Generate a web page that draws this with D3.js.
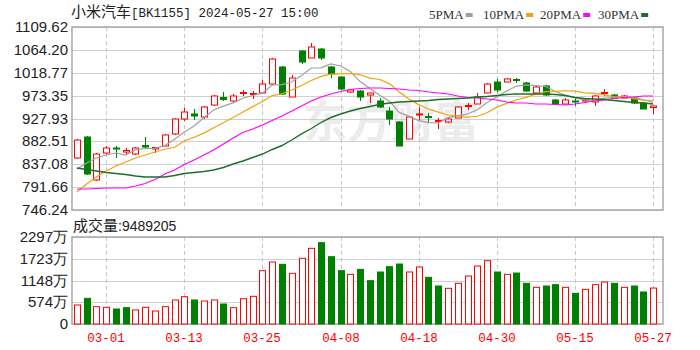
<!DOCTYPE html>
<html>
<meta charset="utf-8">
<head>
  <title>小米汽车[BK1155] K线</title>
</head>

<style>
body { margin: 0; background: #fff; }
svg { display: block; }
.ylab {
  font-family: "Liberation Sans", Arial, sans-serif;
  font-size: 15px;
  fill: #222;
  text-anchor: end;
}
.xlab {
  font-family: "Liberation Mono", "DejaVu Sans Mono", monospace;
  font-size: 12.5px;
  fill: #f00;
  text-anchor: middle;
}
.legend {
  font-family: "Liberation Serif", serif;
  font-size: 13px;
  fill: #333;
}
</style>

<body>
  <svg width="700" height="350"></svg>

  <script src="https://cdn.jsdelivr.net/npm/d3@7"></script>
  <script>
// trading days shown
var dates = ["02-27","02-28","02-29","03-01","03-04","03-05","03-06","03-07","03-08","03-11",
  "03-12","03-13","03-14","03-15","03-18","03-19","03-20","03-21","03-22","03-25",
  "03-26","03-27","03-28","03-29","04-01","04-02","04-03","04-08","04-09","04-10",
  "04-11","04-12","04-15","04-16","04-17","04-18","04-19","04-22","04-23","04-24",
  "04-25","04-26","04-29","04-30","05-06","05-07","05-08","05-09","05-10","05-13",
  "05-14","05-15","05-16","05-17","05-20","05-21","05-22","05-23","05-24","05-27"];

var opens = [849.5, 891.2, 805.8, 859.4, 869.3, 861.4, 857.4, 874.3, 867.4, 873.3,
  897.2, 926.9, 936.9, 930.9, 954.7, 969.6, 962.7, 977.6, 975.6, 978.6,
  996.4, 1030.2, 970.6, 1061.9, 1048.1, 1065.9, 1030.2, 1010.3, 980.5, 982.5,
  974.6, 962.7, 942.8, 921.0, 887.2, 934.9, 931.9, 921.9, 921.0, 928.9,
  951.7, 956.7, 978.6, 1000.4, 1000.4, 1005.4, 998.4, 978.6, 992.5, 964.7,
  956.7, 962.7, 962.7, 960.7, 977.6, 974.6, 968.6, 968.6, 958.7, 949.8];

var highs = [887.2, 893.2, 859.4, 873.3, 873.3, 869.3, 871.3, 891.2, 871.3, 897.2,
  928.9, 948.8, 946.8, 952.7, 974.6, 980.5, 976.6, 984.5, 982.5, 1004.4,
  1048.1, 1032.2, 1014.3, 1063.9, 1077.8, 1067.9, 1032.2, 1012.3, 986.5, 984.5,
  979.6, 968.6, 950.8, 923.0, 932.9, 950.8, 938.8, 928.9, 928.9, 952.7,
  958.7, 978.6, 998.4, 1006.5, 1008.3, 1008.3, 1000.4, 992.5, 994.4, 966.6,
  968.6, 970.6, 966.6, 974.6, 986.5, 976.6, 974.6, 970.6, 960.7, 952.7];

var lows = [847.5, 815.7, 803.8, 857.4, 849.5, 855.4, 855.4, 869.3, 859.4, 873.3,
  895.2, 923.0, 924.9, 926.9, 952.7, 962.7, 960.7, 972.6, 966.6, 976.6,
  994.4, 974.6, 970.6, 1036.1, 1048.1, 1044.1, 1008.3, 984.5, 978.6, 962.7,
  958.7, 948.8, 915.0, 873.3, 887.2, 924.9, 919.0, 907.1, 919.0, 928.9,
  944.8, 956.7, 978.6, 980.5, 1000.4, 998.4, 980.5, 978.6, 972.6, 954.7,
  956.7, 952.7, 958.7, 952.7, 972.6, 966.6, 968.6, 956.7, 946.8, 936.9];

var closes = [885.2, 817.7, 857.4, 869.3, 867.4, 864.4, 869.3, 871.3, 870.3, 895.2,
  926.9, 940.8, 932.9, 950.8, 972.6, 965.6, 972.6, 979.5, 977.6, 996.4,
  1046.1, 976.6, 1008.3, 1040.1, 1069.9, 1048.1, 1016.3, 986.5, 984.5, 970.6,
  978.6, 950.8, 926.9, 873.3, 930.9, 936.9, 929.9, 923.9, 926.9, 950.8,
  953.7, 970.6, 996.4, 984.5, 1006.5, 1003.4, 982.5, 990.5, 974.6, 956.7,
  964.7, 960.7, 964.7, 972.6, 979.5, 968.6, 972.6, 958.7, 946.8, 952.7];

var ma5 = [827.6, 839.5, 849.5, 855.4, 859.4, 855.2, 865.6, 868.3, 868.5, 874.1,
  886.6, 900.9, 913.2, 929.3, 944.8, 952.5, 958.9, 968.2, 973.6, 978.3,
  994.4, 995.2, 1001.0, 1013.5, 1028.2, 1028.6, 1036.5, 1032.2, 1021.1, 1001.2,
  987.3, 974.2, 962.3, 940.0, 932.1, 923.8, 919.6, 919.0, 929.7, 933.7,
  937.0, 945.2, 959.7, 971.2, 982.3, 992.3, 994.7, 993.5, 991.5, 981.5,
  973.8, 969.4, 964.3, 963.9, 968.4, 969.2, 971.6, 970.4, 965.2, 959.9];

var ma10 = [782.0, 797.9, 811.7, 823.7, 833.6, 841.6, 849.5, 855.4, 861.4, 866.8,
  870.9, 883.2, 890.8, 898.9, 909.5, 919.6, 929.9, 940.7, 951.5, 961.6,
  973.5, 977.1, 984.6, 993.5, 1003.3, 1011.5, 1015.9, 1016.6, 1017.3, 1014.7,
  1008.0, 1005.4, 997.2, 980.6, 966.7, 955.5, 946.9, 940.6, 934.9, 932.9,
  930.4, 932.4, 939.3, 950.5, 958.0, 964.7, 969.9, 976.6, 981.4, 981.9,
  983.0, 982.1, 978.9, 977.7, 975.0, 971.5, 970.5, 967.3, 964.6, 964.2];

var ma20 = [787.9, 787.9, 788.9, 789.9, 789.9, 789.9, 793.9, 798.9, 806.8, 817.7,
  825.7, 836.6, 845.5, 855.4, 865.4, 877.3, 889.2, 900.1, 907.1, 915.0,
  923.9, 932.9, 942.8, 952.7, 962.7, 970.6, 976.6, 981.5, 985.5, 987.5,
  988.5, 988.5, 987.5, 986.5, 984.5, 983.5, 980.5, 978.6, 976.6, 972.6,
  969.6, 968.6, 966.6, 964.7, 960.7, 958.7, 958.7, 956.7, 956.7, 955.7,
  954.7, 956.7, 959.7, 962.7, 964.7, 967.6, 969.6, 970.6, 972.6, 972.6];

var ma30 = [829.6, 826.7, 823.7, 820.7, 818.7, 816.7, 813.7, 811.7, 811.7, 811.7,
  814.7, 818.7, 820.7, 822.7, 825.7, 830.6, 837.6, 843.5, 850.5, 857.4,
  866.4, 874.3, 885.2, 897.2, 908.1, 920.0, 929.9, 936.9, 942.8, 947.8,
  951.7, 955.7, 958.7, 960.7, 961.7, 962.7, 963.7, 965.6, 966.6, 967.6,
  968.6, 970.6, 971.6, 973.6, 975.6, 976.6, 976.6, 976.6, 976.6, 975.6,
  973.6, 969.6, 967.6, 966.6, 965.6, 963.7, 961.7, 959.7, 958.7, 956.7];

// volume in 万 (10k shares)
var volumes = [502, 678, 457, 440, 396, 431, 370, 440, 343, 457,
  634, 721, 634, 607, 634, 528, 431, 668, 731, 1408,
  1637, 1575, 1338, 1734, 1998, 2147, 1777, 1408, 1311, 1443,
  1144, 1373, 1513, 1584, 1373, 1505, 1232, 1003, 942, 1074,
  1267, 1531, 1672, 1373, 1311, 1346, 1074, 968, 1003, 1038,
  968, 810, 915, 1038, 1109, 1074, 968, 1003, 845, 948.9];

// 1 = red (up) bar, 0 = green (down) bar
var volUp = [1,0,1,1,0,0,1,1,1,1, 1,1,0,1,1,0,1,1,1,1, 1,0,1,1,1,0,0,0,1,0,
  0,0,0,0,1,1,0,0,1,1, 1,1,1,0,1,0,0,1,0,0, 1,0,1,1,1,0,1,0,0,1];

var priceTicks = [746.24, 791.66, 837.08, 882.51, 927.93, 973.35, 1018.77, 1064.20, 1109.62];
var volTicks = [0, 574, 1148, 1723, 2297];
var dateTicks = ["03-01","03-13","03-25","04-08","04-18","04-30","05-15","05-27"];
var maNames = ["5PMA", "10PMA", "20PMA", "30PMA"];
var maColors = ["#a0a0a0", "#f0a30a", "#ff00ff", "#1f6e2c"];

var RED = "#f00", GREEN = "#008000";

var svg = d3.select("svg");
var left = 72, right = 663;
var pTop = 27, pBot = 210, vTop = 237, vBot = 324;

var x = d3.scaleBand().domain(dates).range([72, 658]).paddingInner(0.38).paddingOuter(0.19);
function cx(d) { return Math.round(x(d) + x.bandwidth() / 2); }
var y = d3.scaleLinear().domain([priceTicks[0], priceTicks[priceTicks.length - 1]]).range([pBot, pTop]);
var yv = d3.scaleLinear().domain([0, volTicks[volTicks.length - 1]]).range([vBot, vTop]);

var rows = dates.map(function(d, i) {
  return {date: d, o: opens[i], h: highs[i], l: lows[i], c: closes[i], v: volumes[i], up: volUp[i]};
});

// watermark
svg.append("text")
  .attr("x", 303).attr("y", 138)
  .style("font-family", "Noto Sans CJK SC")
  .style("font-weight", "bold")
  .style("font-size", "44px")
  .attr("fill", "#ececec")
  .text("东方财富");

// grids
var grid = svg.append("g");
grid.selectAll(".hp").data(priceTicks).enter().append("line")
  .attr("x1", left).attr("x2", right)
  .attr("y1", function(d) { return Math.round(y(d)) + 0.5; })
  .attr("y2", function(d) { return Math.round(y(d)) + 0.5; })
  .attr("stroke", "#d0d0d0");
grid.selectAll(".hv").data(volTicks).enter().append("line")
  .attr("x1", left).attr("x2", right)
  .attr("y1", function(d) { return Math.round(yv(d)) + 0.5; })
  .attr("y2", function(d) { return Math.round(yv(d)) + 0.5; })
  .attr("stroke", "#d0d0d0");
[[pTop, pBot], [vTop, vBot]].forEach(function(p) {
  grid.selectAll(null).data(dateTicks).enter().append("line")
    .attr("x1", function(d) { return cx(d) + 0.5; })
    .attr("x2", function(d) { return cx(d) + 0.5; })
    .attr("y1", p[0]).attr("y2", p[1])
    .attr("stroke", "#c8c8c8")
    .attr("stroke-dasharray", "4,3");
});

// frames
svg.append("rect").attr("x", left).attr("y", pTop).attr("width", right - left).attr("height", pBot - pTop)
  .attr("fill", "none").attr("stroke", "#a8a8a8").attr("stroke-width", 1.5);
svg.append("rect").attr("x", left).attr("y", vTop).attr("width", right - left).attr("height", vBot - vTop)
  .attr("fill", "none").attr("stroke", "#a8a8a8").attr("stroke-width", 1.5);

// y labels
svg.selectAll(".yl").data(priceTicks).enter().append("text")
  .attr("class", "ylab")
  .attr("x", 68)
  .attr("y", function(d) { return y(d) + 5; })
  .text(function(d) { return d.toFixed(2); });
svg.selectAll(".vl").data(volTicks).enter().append("text")
  .attr("class", "ylab")
  .attr("x", 68)
  .attr("y", function(d) { return yv(d) + 5; })
  .text(function(d) { return d === 0 ? "0" : d + "万"; });

// x labels
svg.selectAll(".xl").data(dateTicks).enter().append("text")
  .attr("class", "xlab")
  .attr("x", function(d) { return cx(d); })
  .attr("y", 342)
  .text(function(d) { return d; });

// candles
var candles = svg.append("g").selectAll("g").data(rows).enter().append("g");
candles.append("line")
  .attr("x1", function(d) { return cx(d.date) + 0.5; })
  .attr("x2", function(d) { return cx(d.date) + 0.5; })
  .attr("y1", function(d) { return y(d.h); })
  .attr("y2", function(d) { return y(Math.max(d.o, d.c)); })
  .attr("stroke", function(d) { return d.c >= d.o ? RED : GREEN; });
candles.append("line")
  .attr("x1", function(d) { return cx(d.date) + 0.5; })
  .attr("x2", function(d) { return cx(d.date) + 0.5; })
  .attr("y1", function(d) { return y(Math.min(d.o, d.c)); })
  .attr("y2", function(d) { return y(d.l); })
  .attr("stroke", function(d) { return d.c >= d.o ? RED : GREEN; });
candles.append("rect")
  .attr("x", function(d) { return cx(d.date) - 2.5; })
  .attr("width", 6)
  .attr("y", function(d) { return y(Math.max(d.o, d.c)); })
  .attr("height", function(d) { return Math.max(1, Math.abs(y(d.o) - y(d.c))); })
  .attr("fill", function(d) { return d.c >= d.o ? "#fff" : GREEN; })
  .attr("stroke", function(d) { return d.c >= d.o ? RED : GREEN; });

// moving averages
var line = d3.line()
  .x(function(d, i) { return x(dates[i]) + x.bandwidth() / 2; })
  .y(function(d) { return y(d); });
[ma5, ma10, ma20, ma30].forEach(function(s, k) {
  svg.append("path")
    .attr("d", line(s))
    .attr("fill", "none")
    .attr("stroke", maColors[k])
    .attr("stroke-width", k === 3 ? 1.4 : 1.2);
});

// volume bars
svg.append("g").selectAll("rect").data(rows).enter().append("rect")
  .attr("x", function(d) { return cx(d.date) - 2.5; })
  .attr("width", 6)
  .attr("y", function(d) { return yv(d.v); })
  .attr("height", function(d) { return vBot - yv(d.v); })
  .attr("fill", function(d) { return d.up ? "#fff" : GREEN; })
  .attr("stroke", function(d) { return d.up ? RED : GREEN; });

// title
var title = svg.append("text").attr("x", 71).attr("y", 17).attr("fill", "#222");
title.append("tspan").style("font-family", "Noto Sans CJK SC").style("font-size", "15px").text("小米汽车");
title.append("tspan").style("font-family", "Liberation Mono").style("font-size", "12.5px").text("[BK1155] 2024-05-27 15:00");

// legend
var legX = [429, 483, 540, 598];
maNames.forEach(function(n, k) {
  var t = svg.append("text").attr("class", "legend").attr("x", legX[k]).attr("y", 19).text(n);
  var w = t.node().getComputedTextLength();
  svg.append("rect").attr("x", legX[k] + w + 2).attr("y", 13).attr("width", 7).attr("height", 4)
    .attr("fill", maColors[k]);
});

// volume caption
var cap = svg.append("text").attr("x", 73).attr("y", 231).attr("fill", "#222");
cap.append("tspan").style("font-family", "Noto Sans CJK SC").style("font-size", "15px").text("成交量");
cap.append("tspan").style("font-family", "Liberation Sans").style("font-size", "14px").text(":9489205");
  </script>
</body>
</html>
